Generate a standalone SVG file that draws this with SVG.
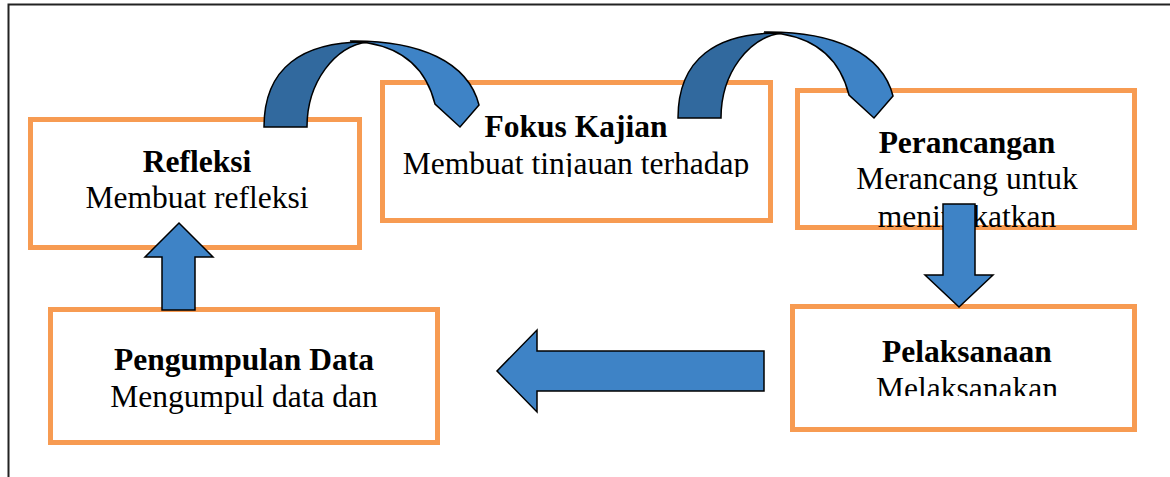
<svg xmlns="http://www.w3.org/2000/svg" width="1170" height="477" viewBox="0 0 1170 477">
<style>
.box{fill:#fff;stroke:#F79B52;stroke-width:5}
.t{font-family:"Liberation Serif","Times New Roman",serif;font-size:31.5px;fill:#000;text-anchor:middle}
.b{font-weight:bold}
.arr{fill:#3E83C6;stroke:#000;stroke-width:1.5;stroke-linejoin:miter}
.dk{fill:#31699E;stroke:#000;stroke-width:1.5}
</style>
<defs>
<clipPath id="cFokus"><rect x="382" y="82" width="390" height="95"/></clipPath>
<clipPath id="cPel"><rect x="792" y="306" width="343" height="90"/></clipPath>
</defs>
<rect width="1170" height="477" fill="#fff"/>
<path d="M8.5,477 V4.5 H1170" fill="none" stroke="#222" stroke-width="2"/>

<g id="refleksi">
<rect class="box" x="30.5" y="119.5" width="329" height="128"/>
<text class="t b" x="197" y="172">Refleksi</text>
<text class="t" x="197" y="208">Membuat refleksi</text>
</g>

<g id="fokus">
<rect class="box" x="382.5" y="82.5" width="388" height="138"/>
<g clip-path="url(#cFokus)">
<text class="t b" x="576" y="137">Fokus Kajian</text>
<text class="t" x="576" y="173.5">Membuat tinjauan terhadap</text>
</g>
</g>

<g id="perancangan">
<rect class="box" x="797.5" y="90.5" width="337" height="137"/>
<text class="t b" x="967" y="153">Perancangan</text>
<text class="t" x="967" y="189">Merancang untuk</text>
<text class="t" x="967" y="227">meningkatkan</text>
</g>

<g id="pelaksanaan">
<rect class="box" x="792.5" y="306.5" width="342" height="123"/>
<g clip-path="url(#cPel)">
<text class="t b" x="967" y="362">Pelaksanaan</text>
<text class="t" x="967" y="398.5">Melaksanakan</text>
</g>
</g>

<g id="pengumpulan">
<rect class="box" x="50.5" y="309.5" width="387" height="133"/>
<text class="t b" x="244" y="370">Pengumpulan Data</text>
<text class="t" x="244" y="407">Mengumpul data dan</text>
</g>

<g id="connectors">
<g id="curve1">
<path class="arr" d="M350,41 C420,40 468,62 479,105 L460,127 L435,104 C428,76 410,50 368,43 Z"/>
<path class="dk" d="M264,127 C264,68 302,41 368,42 C335,46 307,82 307,127 Z"/>
</g>
<g id="curve2" transform="translate(414,-9)">
<path class="arr" d="M350,41 C420,40 468,62 479,105 L460,127 L435,104 C428,76 410,50 368,43 Z"/>
<path class="dk" d="M264,127 C264,68 302,41 368,42 C335,46 307,82 307,127 Z"/>
</g>
<path id="down" class="arr" d="M943,204 H975 V275 H993 L959,307 L925,275 H943 Z"/>
<path id="left" class="arr" d="M764,351 V391 H537 V412 L497,371 L537,330 V351 Z"/>
<path id="up" class="arr" d="M162,310 V257 H145 L179,223 L213,257 H195 V310 Z"/>
</g>
</svg>
